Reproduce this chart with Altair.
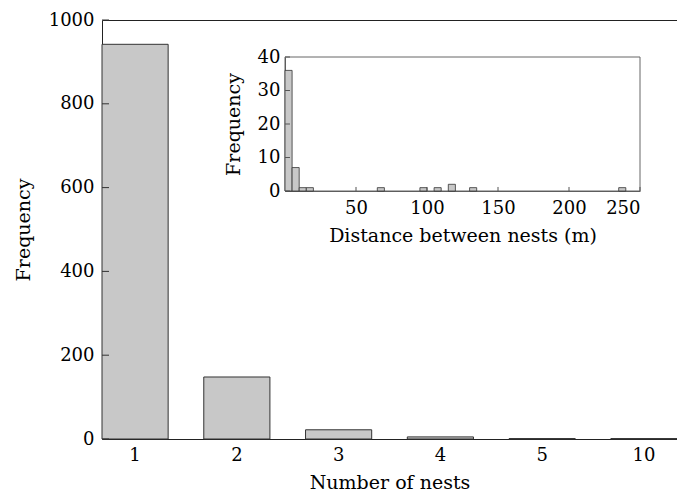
import altair as alt
import pandas as pd

# Main histogram: number of nests
nest_labels = ["1", "2", "3", "4", "5", "10"]
nest_freq = [942, 148, 22, 5, 1, 1]
main_yticks = [0, 200, 400, 600, 800, 1000]

# Inset histogram: distance between nests (5 m bins)
dist_start = [0, 5, 10, 15, 65, 95, 105, 115, 130, 235]
dist_end = [5, 10, 15, 20, 70, 100, 110, 120, 135, 240]
dist_freq = [36, 7, 1, 1, 1, 1, 1, 2, 1, 1]
inset_xticks = [50, 100, 150, 200, 250]
inset_yticks = [0, 10, 20, 30, 40]

FONT = "DejaVu Serif"
FILL = "#c8c8c8"
EDGE = "#333333"

df_main = pd.DataFrame({"nests": nest_labels, "freq": nest_freq, "base": [0] * len(nest_freq)})
df_mticks = pd.DataFrame({"v": main_yticks})
df_dist = pd.DataFrame({"start": dist_start, "end": dist_end, "freq": dist_freq,
                        "base": [0] * len(dist_freq)})
df_frame = pd.DataFrame({"x0": [0], "x1": [250], "y0": [0], "y1": [40]})
df_ixt = pd.DataFrame({"v": inset_xticks, "y0": [0] * len(inset_xticks), "y1": [1.2] * len(inset_xticks)})
df_iyt = pd.DataFrame({"v": inset_yticks, "x0": [0] * len(inset_yticks), "x1": [3.5] * len(inset_yticks)})

# ---- main layer
main_y_scale = alt.Scale(domain=[0, 1000], nice=False)
main_y_axis = alt.Axis(orient="left", values=main_yticks, ticks=False, domain=False, grid=False,
                       format="d", labelPadding=8, title="Frequency", titlePadding=15)

main_bars = alt.Chart(df_main).mark_bar(fill=FILL, stroke=EDGE, strokeWidth=1).encode(
    x=alt.X("nests:N", sort=nest_labels,
            scale=alt.Scale(paddingInner=0.35, paddingOuter=0),
            axis=alt.Axis(orient="bottom", ticks=False, domain=False, labelAngle=0,
                          labelPadding=7, title="Number of nests", titlePadding=9)),
    y=alt.Y("freq:Q", scale=main_y_scale, axis=main_y_axis),
    y2="base:Q",
)
main_ticks = alt.Chart(df_mticks).mark_rule(color=EDGE, strokeWidth=1).encode(
    x=alt.value(0), x2=alt.value(7),
    y=alt.Y("v:Q", scale=main_y_scale, axis=main_y_axis),
)
main_layer = alt.layer(main_bars, main_ticks)

# ---- inset layer
ix_scale = alt.Scale(domain=[0, 250], range=[183, 538], nice=False, zero=False, padding=0)
iy_scale = alt.Scale(domain=[0, 40], range=[171, 37], nice=False, padding=0)
ix_axis = alt.Axis(orient="bottom", offset=-248, values=inset_xticks, ticks=False, grid=False,
                   labelFlush=True, labelPadding=8, domainColor="#555555",
                   title="Distance between nests (m)", titlePadding=9)
iy_axis = alt.Axis(orient="left", offset=-183, values=inset_yticks, ticks=False, grid=False,
                   labelPadding=5, domainColor="#555555", title="Frequency", titlePadding=14)

inset_bars = alt.Chart(df_dist).mark_bar(fill=FILL, stroke=EDGE, strokeWidth=0.8).encode(
    x=alt.X("start:Q", scale=ix_scale, axis=ix_axis),
    x2="end:Q",
    y=alt.Y("freq:Q", scale=iy_scale, axis=iy_axis),
    y2="base:Q",
)
inset_frame = alt.Chart(df_frame).mark_rect(fillOpacity=0, stroke="#666666", strokeWidth=1).encode(
    x=alt.X("x0:Q", scale=ix_scale, axis=ix_axis), x2="x1:Q",
    y=alt.Y("y0:Q", scale=iy_scale, axis=iy_axis), y2="y1:Q",
)
inset_xt = alt.Chart(df_ixt).mark_rule(color="#555555", strokeWidth=1).encode(
    x=alt.X("v:Q", scale=ix_scale, axis=ix_axis),
    y=alt.Y("y0:Q", scale=iy_scale, axis=iy_axis), y2="y1:Q",
)
inset_yt = alt.Chart(df_iyt).mark_rule(color="#555555", strokeWidth=1).encode(
    x=alt.X("x0:Q", scale=ix_scale, axis=ix_axis), x2="x1:Q",
    y=alt.Y("v:Q", scale=iy_scale, axis=iy_axis),
)
inset_layer = alt.layer(inset_frame, inset_bars, inset_xt, inset_yt)

chart = alt.layer(main_layer, inset_layer).resolve_scale(
    x="independent", y="independent"
).properties(
    width=575, height=419,
    autosize=alt.AutoSizeParams(type="none"),
    padding={"left": 94, "top": 12, "right": 0, "bottom": 56},
).configure_view(
    stroke="#222222", strokeWidth=1
).configure_axis(
    labelFont=FONT, titleFont=FONT, labelFontSize=18, titleFontSize=19,
    labelColor="black", titleColor="black", titleFontWeight="normal",
)

chart.save("out.html", embed_options={"renderer": "svg", "actions": False})
